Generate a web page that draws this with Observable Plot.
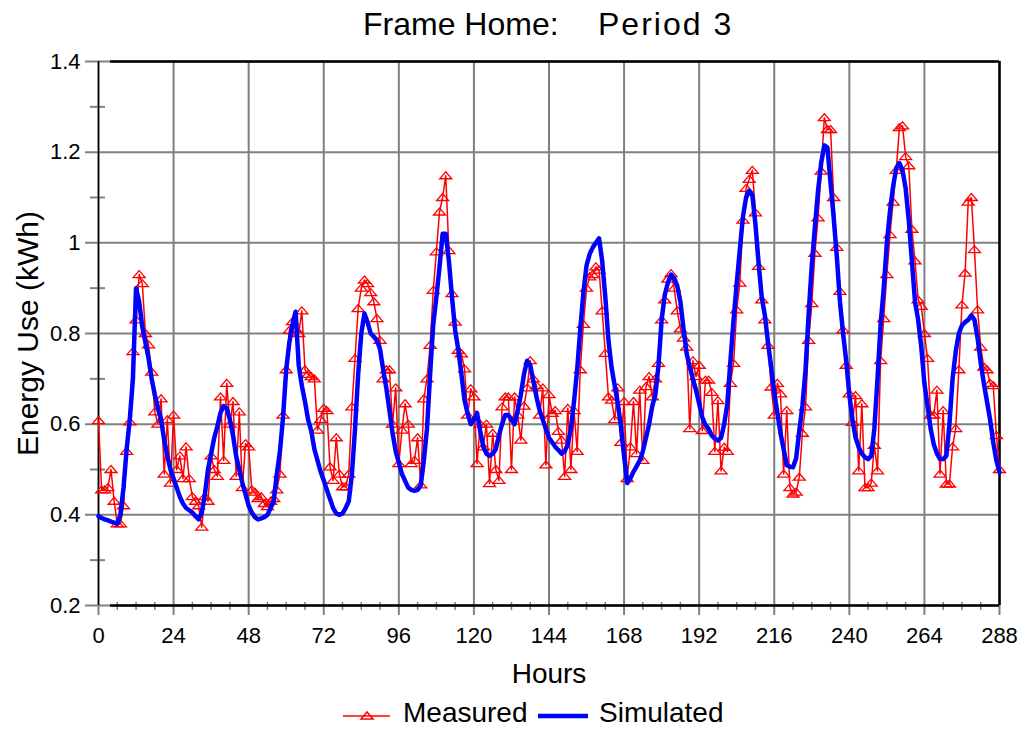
<!DOCTYPE html>
<html>
<head>
<meta charset="utf-8">
<script src="https://cdn.jsdelivr.net/npm/d3@7"></script>
<script src="https://cdn.jsdelivr.net/npm/@observablehq/plot@0.6"></script>
<style>
  body { margin: 0; background: #fff; font-family: "Liberation Sans", Arial, sans-serif; }
  #wrap { position: relative; width: 1025px; height: 730px; overflow: hidden; background: #fff; }
  .t { position: absolute; white-space: pre; color: #000; font-family: "Liberation Sans", Arial, sans-serif; z-index: 2; }
</style>
</head>
<body>
<div id="wrap">
  <div class="t" style="left:363px;top:8px;font-size:32px;line-height:32px;">Frame Home:</div>
  <div class="t" style="left:598px;top:8px;font-size:32px;line-height:32px;letter-spacing:2px">Period 3</div>
  <svg style="position:absolute;left:340px;top:706px" width="56" height="20">
    <line x1="3" y1="10" x2="50" y2="10" stroke="#ff0000" stroke-width="1.5"/>
    <path d="M27,6 L33,13 L21,13 Z" fill="none" stroke="#ff0000" stroke-width="1.5"/>
  </svg>
  <div class="t" style="left:403px;top:699px;font-size:28px;line-height:28px">Measured</div>
  <svg style="position:absolute;left:536px;top:706px" width="56" height="20">
    <line x1="2" y1="10" x2="52" y2="10" stroke="#0000ff" stroke-width="4.5"/>
  </svg>
  <div class="t" style="left:599px;top:699px;font-size:28px;line-height:28px">Simulated</div>
</div>
<script>
// Hourly measured energy use (kWh), hours 0..288 (one row per day of 24 hours)
const measured = [
  0.608,0.455,0.455,0.46,0.50,0.43,0.38,0.38,0.42,0.54,0.605,0.76,0.83,0.93,0.91,0.80,0.775,0.715,0.627,0.60,0.656,0.49,0.61,0.47,
  0.62,0.50,0.53,0.48,0.55,0.48,0.44,0.43,0.42,0.373,0.44,0.43,0.53,0.50,0.485,0.66,0.52,0.69,0.60,0.65,0.485,0.627,0.46,0.557,
  0.55,0.455,0.45,0.436,0.44,0.425,0.418,0.43,0.436,0.455,0.49,0.62,0.72,0.807,0.826,0.81,0.80,0.85,0.72,0.71,0.705,0.70,0.587,0.61,
  0.635,0.63,0.506,0.476,0.57,0.49,0.462,0.462,0.49,0.638,0.745,0.855,0.90,0.918,0.91,0.89,0.87,0.833,0.785,0.70,0.72,0.72,0.60,0.68,
  0.513,0.587,0.645,0.60,0.513,0.52,0.57,0.466,0.656,0.70,0.774,0.895,0.98,1.068,1.10,1.148,0.983,0.888,0.825,0.763,0.755,0.722,0.62,0.678,
  0.66,0.513,0.60,0.55,0.60,0.469,0.58,0.50,0.476,0.638,0.66,0.66,0.50,0.66,0.62,0.565,0.64,0.68,0.74,0.70,0.685,0.62,0.68,0.51,
  0.665,0.624,0.63,0.584,0.565,0.485,0.635,0.50,0.63,0.54,0.72,0.82,0.90,0.925,0.93,0.947,0.94,0.85,0.756,0.66,0.653,0.61,0.68,0.56,
  0.65,0.48,0.55,0.65,0.535,0.675,0.52,0.683,0.705,0.66,0.70,0.734,0.83,0.874,0.92,0.932,0.90,0.85,0.81,0.79,0.77,0.59,0.74,0.705,
  0.73,0.586,0.697,0.697,0.67,0.54,0.652,0.497,0.549,0.54,0.69,0.734,0.852,0.911,1.05,1.12,1.14,1.16,1.066,0.948,0.874,0.83,0.774,0.682,
  0.62,0.69,0.667,0.49,0.63,0.46,0.446,0.45,0.483,0.58,0.638,0.785,0.866,0.977,1.055,1.158,1.276,1.25,1.25,1.10,0.99,0.893,0.808,0.73,
  0.667,0.604,0.663,0.497,0.645,0.46,0.46,0.47,0.553,0.497,0.74,0.833,0.93,1.018,1.09,1.16,1.254,1.258,1.19,1.17,1.03,0.96,0.874,0.86,
  0.80,0.745,0.62,0.62,0.675,0.49,0.63,0.468,0.468,0.55,0.59,0.72,0.863,0.933,1.09,1.10,0.985,0.852,0.77,0.726,0.72,0.69,0.685,0.575,
  0.50
];

// Hourly simulated energy use (kWh), hours 0..288
const simulated = [
  0.397,0.393,0.39,0.388,0.385,0.383,0.38,0.40,0.46,0.545,0.61,0.70,0.90,0.87,0.815,0.78,0.745,0.70,0.665,0.635,0.61,0.565,0.53,0.50,
  0.48,0.46,0.44,0.425,0.415,0.41,0.405,0.397,0.39,0.405,0.445,0.50,0.535,0.57,0.595,0.625,0.64,0.635,0.61,0.575,0.53,0.50,0.47,0.445,
  0.42,0.405,0.395,0.39,0.392,0.395,0.40,0.415,0.43,0.49,0.54,0.616,0.72,0.78,0.82,0.848,0.73,0.685,0.65,0.61,0.585,0.545,0.52,0.495,
  0.476,0.455,0.435,0.415,0.403,0.40,0.403,0.415,0.43,0.49,0.59,0.71,0.80,0.844,0.825,0.80,0.793,0.785,0.765,0.72,0.68,0.63,0.58,0.54,
  0.515,0.49,0.475,0.46,0.455,0.453,0.455,0.465,0.52,0.59,0.71,0.82,0.88,0.946,1.02,1.02,0.96,0.88,0.807,0.765,0.71,0.653,0.623,0.60,
  0.61,0.625,0.585,0.55,0.535,0.53,0.535,0.545,0.575,0.60,0.62,0.62,0.61,0.60,0.63,0.665,0.71,0.74,0.73,0.695,0.66,0.63,0.61,0.59,
  0.57,0.56,0.55,0.543,0.535,0.54,0.555,0.59,0.65,0.72,0.81,0.89,0.95,0.975,0.99,1.0,1.01,0.96,0.88,0.785,0.725,0.685,0.645,0.595,
  0.53,0.47,0.48,0.495,0.507,0.52,0.54,0.57,0.60,0.64,0.665,0.73,0.83,0.885,0.912,0.93,0.922,0.905,0.87,0.81,0.756,0.726,0.70,0.675,
  0.645,0.615,0.598,0.59,0.575,0.568,0.564,0.57,0.60,0.645,0.74,0.83,0.91,0.985,1.058,1.10,1.115,1.105,1.04,0.955,0.88,0.84,0.78,0.726,
  0.67,0.625,0.58,0.545,0.51,0.506,0.505,0.525,0.585,0.64,0.72,0.844,0.95,1.035,1.115,1.176,1.215,1.21,1.132,1.055,0.97,0.87,0.80,0.74,
  0.665,0.61,0.57,0.549,0.535,0.527,0.523,0.53,0.59,0.70,0.82,0.90,1.0,1.07,1.125,1.165,1.176,1.16,1.12,1.05,0.96,0.87,0.83,0.77,
  0.69,0.64,0.59,0.555,0.535,0.523,0.523,0.53,0.60,0.70,0.76,0.80,0.818,0.825,0.83,0.84,0.83,0.79,0.735,0.69,0.65,0.61,0.56,0.52,
  0.494
];

const xTicks = [0, 24, 48, 72, 96, 120, 144, 168, 192, 216, 240, 264, 288];
const xMinorTicks = [6, 12, 18, 30, 36, 42, 54, 60, 66, 78, 84, 90, 102, 108, 114, 126, 132, 138, 150, 156, 162, 174, 180, 186, 198, 204, 210, 222, 228, 234, 246, 252, 258, 270, 276, 282];
const yTicks = [0.2, 0.4, 0.6, 0.8, 1.0, 1.2, 1.4];
const yMinorTicks = [0.3, 0.5, 0.7, 0.9, 1.1, 1.3];
const yLabel = "Energy Use (kWh)";
const xLabel = "Hours";

const measuredData = measured.map((v, i) => ({hour: i, value: v}));
const simulatedData = simulated.map((v, i) => ({hour: i, value: v}));

const W = 1025, H = 652, mL = 98, mR = 26, mT = 21, mB = 87;
const frameW = W - mL - mR, frameH = H - mT - mB;
const gray = "#808080";

const tri = {
  draw(ctx) {
    ctx.moveTo(0, -4);
    ctx.lineTo(6, 3);
    ctx.lineTo(-6, 3);
    ctx.closePath();
  }
};

const chart = Plot.plot({
  width: W,
  height: H,
  marginLeft: mL,
  marginRight: mR,
  marginTop: mT,
  marginBottom: mB,
  style: {fontFamily: "'Liberation Sans', Arial, sans-serif", fontSize: "22px", background: "none", color: "black"},
  x: {domain: [0, 288], axis: null},
  y: {domain: [0.2, 1.4], axis: null},
  marks: [
    // gridlines and ticks
    Plot.ruleY(yTicks, {stroke: gray, strokeWidth: 2, insetLeft: -13}),
    Plot.ruleY(yMinorTicks, {stroke: gray, strokeWidth: 2, insetLeft: -8, insetRight: frameW - 7}),
    Plot.ruleX(xTicks, {stroke: gray, strokeWidth: 2, insetBottom: -10}),
    Plot.ruleX(xMinorTicks, {stroke: gray, strokeWidth: 1.5, insetTop: frameH - 3, insetBottom: -5}),
    // frame
    Plot.ruleX([0], {stroke: "black", strokeWidth: 1.5}),
    Plot.ruleX([288], {stroke: "black", strokeWidth: 2.5}),
    Plot.ruleY([0.2, 1.4], {stroke: "black", strokeWidth: 2.5, insetLeft: 12}),
    // data
    Plot.line(measuredData, {x: "hour", y: "value", stroke: "#ff0000", strokeWidth: 1.5}),
    Plot.dot(measuredData, {x: "hour", y: "value", symbol: tri, stroke: "#ff0000", fill: "none", strokeWidth: 1.3}),
    Plot.line(simulatedData, {x: "hour", y: "value", stroke: "#0000ff", strokeWidth: 4.5}),
    // axes
    Plot.axisX({ticks: xTicks, tickSize: 0, tickPadding: 22, fontSize: 22, label: null, tickFormat: d => String(d)}),
    Plot.axisY({ticks: yTicks, tickSize: 0, tickPadding: 18, fontSize: 22, label: null, tickFormat: d => String(Math.round(d * 10) / 10)}),
    // axis titles
    Plot.text([xLabel], {frameAnchor: "bottom", lineAnchor: "bottom", dy: 77, fontSize: 28, fill: "black"}),
    Plot.text([yLabel], {frameAnchor: "left", textAnchor: "middle", lineAnchor: "middle", rotate: -90, dx: -70, fontSize: 30, fill: "black"})
  ]
});
chart.style.position = "absolute";
chart.style.left = "0px";
chart.style.top = "40px";
chart.style.zIndex = "1";
document.getElementById("wrap").appendChild(chart);
</script>
</body>
</html>
